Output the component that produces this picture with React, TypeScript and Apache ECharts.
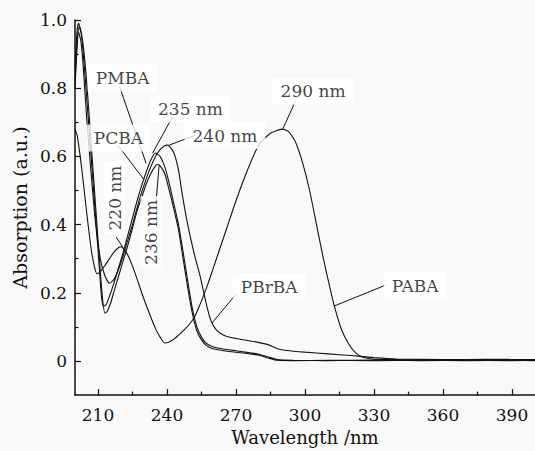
import React, { useEffect, useRef } from "react";
import * as echarts from "echarts";

// ---- data (wavelength in nm, absorption in a.u.) ----
const wlPABA = [200, 201, 203, 205, 207, 208.5, 209.5, 211, 213, 215, 217, 219, 220, 221, 223, 226, 229, 232, 235, 237, 239, 241, 243, 245, 248, 250, 252, 254, 256, 258, 260, 263, 266, 270, 275, 280, 285, 290, 293, 296, 299, 302, 305, 308, 311, 313, 316, 319, 322, 325, 330, 340, 350, 360, 370, 380, 390, 400];
const absPABA = [0.68, 0.66, 0.56, 0.44, 0.33, 0.275, 0.256, 0.262, 0.28, 0.3, 0.32, 0.333, 0.335, 0.33, 0.31, 0.26, 0.2, 0.145, 0.095, 0.07, 0.053, 0.056, 0.064, 0.076, 0.095, 0.11, 0.13, 0.16, 0.194, 0.23, 0.27, 0.33, 0.39, 0.47, 0.56, 0.635, 0.668, 0.68, 0.672, 0.64, 0.58, 0.5, 0.4, 0.3, 0.21, 0.155, 0.09, 0.05, 0.024, 0.012, 0.005, 0.004, 0.002, 0.003, 0.002, 0.003, 0.002, 0.003];

const wlPMBA = [200, 200.8, 201.5, 202.5, 203.5, 205, 207, 209, 210.5, 211.5, 212.3, 213.5, 215, 217, 219, 221, 223, 225, 227, 229, 231, 233, 235, 237, 239, 241, 243, 245, 247, 249, 251, 253, 255, 257, 260, 264, 268, 272, 276, 280, 284, 288, 295, 310, 330, 350, 370, 390, 400];
const absPMBA = [0.85, 0.96, 0.99, 0.97, 0.91, 0.78, 0.6, 0.42, 0.28, 0.19, 0.16, 0.165, 0.19, 0.23, 0.275, 0.32, 0.37, 0.42, 0.47, 0.515, 0.555, 0.59, 0.61, 0.6, 0.57, 0.52, 0.46, 0.4, 0.32, 0.235, 0.155, 0.1, 0.07, 0.052, 0.042, 0.036, 0.032, 0.028, 0.024, 0.02, 0.012, 0.004, 0.002, 0.001, 0.003, 0.001, 0.002, 0.001, 0.002];

const wlPCBA = [200, 201, 201.8, 202.8, 204, 205.5, 207, 209, 210.5, 211.8, 213, 214, 215.5, 217, 219, 221, 223, 225, 227, 229, 231, 233, 235, 236, 237, 239, 241, 243, 245, 247, 249, 251, 253, 255, 257, 260, 264, 268, 272, 276, 280, 284, 288, 295, 310, 330, 350, 370, 390, 400];
const absPCBA = [0.8, 0.93, 0.98, 0.96, 0.9, 0.78, 0.64, 0.45, 0.31, 0.195, 0.14, 0.145, 0.17, 0.205, 0.25, 0.295, 0.34, 0.39, 0.44, 0.48, 0.52, 0.55, 0.572, 0.577, 0.572, 0.55, 0.5, 0.445, 0.385, 0.3, 0.215, 0.14, 0.088, 0.062, 0.046, 0.036, 0.031, 0.027, 0.024, 0.021, 0.017, 0.009, 0.002, 0.001, 0.002, 0.001, 0.002, 0.001, 0.002, 0.001];

const wlPBrBA = [200, 200.8, 201.5, 202.5, 203.5, 205, 207, 209, 211, 213, 215, 217, 219, 221, 223, 225, 227, 229, 231, 233, 235, 237, 239, 240, 241, 243, 245, 246.6, 249, 252, 254.5, 257, 259, 261, 263, 266, 270, 275, 280, 284, 288, 292, 300, 310, 320, 330, 340, 360, 380, 400];
const absPBrBA = [0.82, 0.93, 0.965, 0.94, 0.87, 0.72, 0.55, 0.4, 0.3, 0.25, 0.228, 0.24, 0.27, 0.31, 0.355, 0.4, 0.45, 0.495, 0.535, 0.57, 0.6, 0.62, 0.631, 0.633, 0.63, 0.61, 0.56, 0.49, 0.4, 0.31, 0.246, 0.17, 0.12, 0.095, 0.082, 0.072, 0.066, 0.06, 0.054, 0.048, 0.036, 0.031, 0.026, 0.021, 0.016, 0.01, 0.006, 0.004, 0.005, 0.004];

// ---- ticks ----
const xMajorTicks = [210, 240, 270, 300, 330, 360, 390];
const xMinorTicks = [225, 255, 285, 315, 345, 375];
const yMajorTicks = [0, 0.2, 0.4, 0.6, 0.8, 1.0];
const yMinorTicks = [0.1, 0.3, 0.5, 0.7, 0.9];

// ---- annotations (text, label centre and leader line in data coords) ----
const annTexts = ["PMBA", "PCBA", "235 nm", "240 nm", "290 nm", "220 nm", "236 nm", "PBrBA", "PABA"];
const annLabelAt = [[220.7, 0.83], [218.9, 0.654], [250.2, 0.739], [265.2, 0.661], [303.5, 0.791], [217.2, 0.478], [233.1, 0.377], [284.4, 0.217], [347.9, 0.219]];
const annLineFrom = [[219.4, 0.804], [218.6, 0.633], [242.3, 0.715], [252.4, 0.662], [295.9, 0.763], [217.9, 0.364], [235.2, 0.464], [270.3, 0.198], [334.9, 0.222]];
const annLineTo = [[230.9, 0.58], [230.1, 0.531], [233.7, 0.609], [240.9, 0.633], [290.4, 0.681], [220.8, 0.333], [236.6, 0.575], [259.5, 0.111], [312.6, 0.161]];
const annRotated = [false, false, false, false, false, true, true, false, false];

const zip = (a: number[], b: number[]) => a.map((x, i) => [x, b[i]]);
const FONT = "DejaVu Serif";

export default function App() {
  const ref = useRef<HTMLDivElement>(null);
  useEffect(() => {
    if (!ref.current) return;
    const chart = echarts.init(ref.current, null, { renderer: "svg" });
    const curveStyle = { color: "#111", width: 1.1 };
    const curves = [
      zip(wlPABA, absPABA),
      zip(wlPMBA, absPMBA),
      zip(wlPCBA, absPCBA),
      zip(wlPBrBA, absPBrBA),
    ].map((d) => ({
      type: "line",
      data: d,
      showSymbol: false,
      smooth: 0.2,
      lineStyle: curveStyle,
      silent: true,
      z: 2,
    }));
    const leaders = annTexts.map((_, i) => ({
      type: "line",
      data: [annLineFrom[i], annLineTo[i]],
      showSymbol: false,
      lineStyle: { color: "#111", width: 1 },
      silent: true,
      z: 4,
    }));
    const labels = {
      type: "scatter",
      symbolSize: 1,
      itemStyle: { color: "rgba(0,0,0,0)" },
      silent: true,
      z: 5,
      data: annTexts.map((t, i) => ({
        value: annLabelAt[i],
        name: t,
        label: {
          show: true,
          position: "inside",
          formatter: t,
          rotate: annRotated[i] ? 90 : 0,
          color: "#111",
          fontFamily: FONT,
          fontSize: 17,
          backgroundColor: "#fff",
          padding: annRotated[i] ? [2, 4, 2, 4] : [6, 8, 4, 8],
        },
      })),
    };
    chart.setOption({
      animation: false,
      backgroundColor: "#f9f9f9",
      textStyle: { fontFamily: FONT },
      grid: { left: 75, top: 20, right: -5, bottom: 51.5 },
      xAxis: [
        {
          type: "value",
          min: 200,
          max: 400,
          position: "bottom",
          axisLine: { onZero: false, lineStyle: { color: "#111", width: 1.5 } },
          axisTick: { inside: true, length: 6, customValues: xMajorTicks, lineStyle: { color: "#111", width: 1.2 } },
          axisLabel: { customValues: xMajorTicks, color: "#111", fontFamily: FONT, fontSize: 17, margin: 11 },
          splitLine: { show: false },
          name: "Wavelength /nm",
          nameLocation: "middle",
          nameGap: 18,
          nameTextStyle: { color: "#111", fontFamily: FONT, fontSize: 18 },
        },
        {
          type: "value",
          min: 200,
          max: 400,
          position: "bottom",
          axisLine: { show: false, onZero: false },
          axisTick: { inside: true, length: 3.5, customValues: xMinorTicks, lineStyle: { color: "#111", width: 1.2 } },
          axisLabel: { show: false },
          splitLine: { show: false },
        },
      ],
      yAxis: [
        {
          type: "value",
          min: -0.1,
          max: 1.0,
          position: "left",
          axisLine: { onZero: false, lineStyle: { color: "#111", width: 1.5 } },
          axisTick: { inside: true, length: 6, customValues: yMajorTicks, lineStyle: { color: "#111", width: 1.2 } },
          axisLabel: {
            customValues: yMajorTicks,
            color: "#111",
            fontFamily: FONT,
            fontSize: 17,
            margin: 8,
            formatter: (v: number) => (Math.abs(v) < 1e-9 ? "0" : v.toFixed(1)),
          },
          splitLine: { show: false },
          name: "Absorption (a.u.)",
          nameLocation: "middle",
          nameGap: 44,
          nameTextStyle: { color: "#111", fontFamily: FONT, fontSize: 19 },
        },
        {
          type: "value",
          min: -0.1,
          max: 1.0,
          position: "left",
          axisLine: { show: false, onZero: false },
          axisTick: { inside: true, length: 3.5, customValues: yMinorTicks, lineStyle: { color: "#111", width: 1.2 } },
          axisLabel: { show: false },
          splitLine: { show: false },
        },
      ],
      series: [...curves, ...leaders, labels],
    });
    return () => chart.dispose();
  }, []);
  return (
    <div
      ref={ref}
      style={{ position: "fixed", left: 0, top: 0, width: 535, height: 451, background: "#f9f9f9" }}
    />
  );
}
